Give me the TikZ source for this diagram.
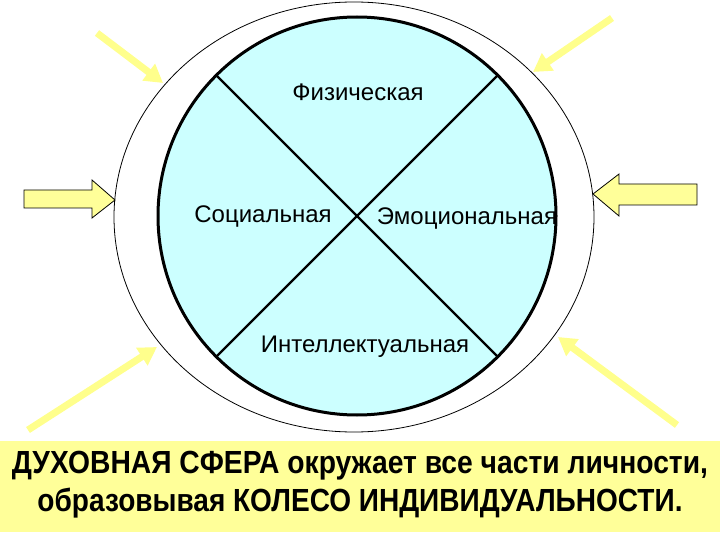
\documentclass[tikz,border=0pt]{standalone}
\usepackage{fontspec}
\setmainfont{Liberation Sans}
\usetikzlibrary{arrows.meta,calc}
\definecolor{cyanfill}{HTML}{CCFFFF}
\definecolor{bandcol}{HTML}{FFFF99}
\definecolor{blockcol}{HTML}{FFFF99}
\definecolor{thincol}{RGB}{255,255,140}
\newlength\linelen
\newcommand\fitline[2]{\settowidth\linelen{#2}\scalebox{\fpeval{#1/\linelen}}[1]{#2}}
\begin{document}
\begin{tikzpicture}[x=1pt,y=-1pt,
  sector/.style={font=\fontsize{24}{26}\selectfont, inner sep=1pt},
  blockarrow/.style={fill=blockcol, draw=black, line width=0.8pt, line join=miter},
  ray/.style={draw=thincol, line width=7pt, -{Triangle[length=18pt,width=20pt]}},
  caption/.style={font=\bfseries\fontsize{32}{34}\selectfont, inner sep=0pt}]
\useasboundingbox (0,0) rectangle (720,540);
\fill[white] (0,0) rectangle (720,540);
% outer spiritual sphere
\draw[line width=0.8pt, fill=white] (354,217) ellipse [x radius=240, y radius=215];
% inner wheel
\coordinate (c) at (357,216);
\draw[line width=3pt, fill=cyanfill] (c) circle [radius=199];
\draw[line width=2.4pt] ($(c)+(45:198)$) -- ($(c)+(225:198)$);
\draw[line width=2.4pt] ($(c)+(135:198)$) -- ($(c)+(315:198)$);
\node[sector] (phys) at (358,92) {Физическая};
\node[sector] (soc) at (263,217) {Социальная};
\node[sector] (emo) at (467,219) {Эмоциональная};
\node[sector] (intel) at (365,347) {Интеллектуальная};
% block arrows
\draw[blockarrow] (24,190) -- (92,190) -- (92,180) -- (115,200) -- (92,218) -- (92,208) -- (24,208) -- cycle;
\draw[blockarrow] (697,184) -- (619,184) -- (619,174) -- (593,194) -- (619,216) -- (619,205) -- (697,205) -- cycle;
% rays
\coordinate (r1s) at (97,33);   \coordinate (r1e) at (163,83);
\coordinate (r2s) at (612,18);  \coordinate (r2e) at (533,72);
\coordinate (r3s) at (28,430);  \coordinate (r3e) at (157,347);
\coordinate (r4s) at (677,425); \coordinate (r4e) at (558,337);
\draw[ray] (r1s) -- (r1e);
\draw[ray] (r2s) -- (r2e);
\draw[ray] (r3s) -- (r3e);
\draw[ray] (r4s) -- (r4e);
% caption band
\fill[bandcol] (0,441) rectangle (720,532);
\node[caption] (cap1) at (360,466) {\fitline{696pt}{ДУХОВНАЯ СФЕРА окружает все части личности,}};
\node[caption] (cap2) at (360,503) {\fitline{645pt}{образовывая КОЛЕСО ИНДИВИДУАЛЬНОСТИ.}};
\end{tikzpicture}
\end{document}
